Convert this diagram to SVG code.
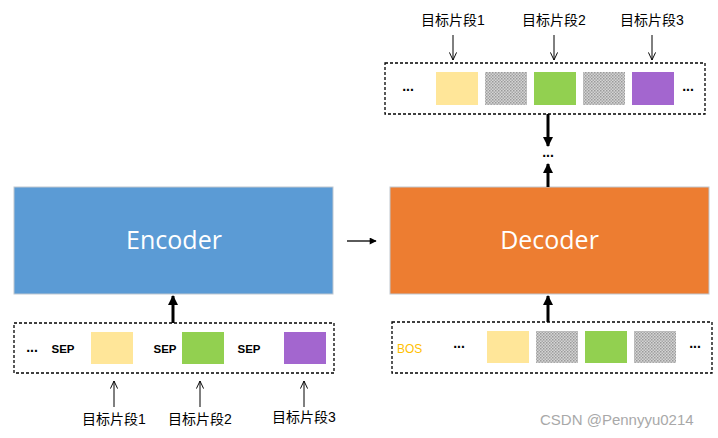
<svg xmlns="http://www.w3.org/2000/svg" width="718" height="438" viewBox="0 0 718 438">
<defs>
<style>
.box{stroke:#bfc7d0;stroke-width:1}
.big{font-family:"Open Sans","Liberation Sans",sans-serif;font-size:25px;fill:#fff;text-anchor:middle}
.dash{fill:#fff;stroke:#000;stroke-width:1.3;stroke-dasharray:3 2}
.sep{font-family:"Liberation Sans",Arial,sans-serif;font-size:11.5px;font-weight:bold;fill:#000;text-anchor:middle}
.dots{font-family:"Liberation Sans",Arial,sans-serif;font-size:14px;font-weight:bold;fill:#000;text-anchor:middle}
.lab{font-family:"Liberation Sans","Noto Sans CJK SC",sans-serif;font-size:14px;fill:#000;text-anchor:middle}
.thin{stroke:#000;stroke-width:1;fill:none}
.thick{stroke:#000;stroke-width:3;fill:none}
.y{fill:#FFE699}.g{fill:#92D050}.p{fill:#A366CF}.x{fill:url(#dotpat)}
</style>
<pattern id="dotpat" width="3" height="3" patternUnits="userSpaceOnUse">
<rect width="3" height="3" fill="#d4d4d4"/>
<rect x="0" y="0" width="1.5" height="1.5" fill="#9a9a9a"/>
<rect x="1.5" y="1.5" width="1.5" height="1.5" fill="#a8a8a8"/>
</pattern>
<marker id="hb" viewBox="0 0 10 10" refX="9" refY="5" markerWidth="3.4" markerHeight="3.4" orient="auto" markerUnits="strokeWidth">
<path d="M0,0 L10,5 L0,10 z" fill="#000"/>
</marker>
<marker id="ho" viewBox="0 0 10 10" refX="9.5" refY="5" markerWidth="8" markerHeight="8" orient="auto" markerUnits="userSpaceOnUse">
<path d="M0,0.5 L9.5,5 L0,9.5" fill="none" stroke="#000" stroke-width="1.2"/>
</marker>
<marker id="hm" viewBox="0 0 10 10" refX="9" refY="5" markerWidth="8" markerHeight="7" orient="auto" markerUnits="userSpaceOnUse">
<path d="M0,0 L10,5 L0,10 z" fill="#000"/>
</marker>
</defs>
<rect width="718" height="438" fill="#fff"/>

<g id="encoder">
<rect class="box" x="14" y="187" width="319" height="107" fill="#5B9BD5"/>
<text class="big" x="174" y="249">Encoder</text>
</g>
<g id="decoder">
<rect class="box" x="390" y="187" width="319" height="107" fill="#ED7D31"/>
<text class="big" x="549.5" y="249">Decoder</text>
</g>

<g id="encoder-input">
<rect class="dash" x="14" y="323" width="320" height="50"/>
<text class="dots" x="32" y="352">...</text>
<text class="sep" x="63" y="353">SEP</text>
<rect class="y" x="91" y="332" width="42" height="32"/>
<text class="sep" x="165" y="353">SEP</text>
<rect class="g" x="182" y="332" width="42" height="32"/>
<text class="sep" x="249" y="353">SEP</text>
<rect class="p" x="284" y="332" width="42" height="32"/>
</g>

<g id="decoder-input">
<rect class="dash" x="392" y="322" width="320" height="51"/>
<text x="397" y="352.5" font-family="Liberation Sans,Arial,sans-serif" font-size="12" fill="#FFC000">BOS</text>
<text class="dots" x="459" y="348">...</text>
<rect class="y" x="487" y="331" width="42" height="32"/>
<rect class="x" x="536" y="331" width="42" height="32"/>
<rect class="g" x="585" y="331" width="42" height="32"/>
<rect class="x" x="634" y="331" width="42" height="32"/>
<text class="dots" x="695" y="348">...</text>
</g>

<g id="decoder-output">
<rect class="dash" x="385" y="63" width="320" height="51"/>
<text class="dots" x="408" y="91">...</text>
<rect class="y" x="436" y="72" width="42" height="33"/>
<rect class="x" x="485" y="72" width="42" height="33"/>
<rect class="g" x="534" y="72" width="42" height="33"/>
<rect class="x" x="583" y="72" width="42" height="33"/>
<rect class="p" x="632" y="72" width="42" height="33"/>
<text class="dots" x="688" y="91">...</text>
</g>

<g id="labels">
<text class="lab" x="453" y="25">目标片段1</text>
<text class="lab" x="554" y="25">目标片段2</text>
<text class="lab" x="652" y="25">目标片段3</text>
<text class="lab" x="114" y="424">目标片段1</text>
<text class="lab" x="200" y="424">目标片段2</text>
<text class="lab" x="304" y="422">目标片段3</text>
<text class="dots" x="548" y="157">...</text>
<text x="540" y="425" font-family="Liberation Sans,Arial,sans-serif" font-size="15" fill="#9a9a9a" opacity="0.85">CSDN @Pennyyu0214</text>
</g>

<g id="connectors">
<line class="thick" x1="173" y1="323" x2="173" y2="296" marker-end="url(#hb)"/>
<line class="thick" x1="548" y1="322" x2="548" y2="296" marker-end="url(#hb)"/>
<line class="thick" x1="548" y1="187" x2="548" y2="164" marker-end="url(#hb)"/>
<line class="thick" x1="548" y1="114" x2="548" y2="146" marker-end="url(#hb)"/>
<line x1="347" y1="241" x2="376" y2="241" stroke="#000" stroke-width="1.3" marker-end="url(#hm)"/>
<line class="thin" x1="114" y1="407" x2="114" y2="381" marker-end="url(#ho)"/>
<line class="thin" x1="200" y1="407" x2="200" y2="381" marker-end="url(#ho)"/>
<line class="thin" x1="304" y1="407" x2="304" y2="381" marker-end="url(#ho)"/>
<line class="thin" x1="453" y1="35" x2="453" y2="60" marker-end="url(#ho)"/>
<line class="thin" x1="554" y1="35" x2="554" y2="60" marker-end="url(#ho)"/>
<line class="thin" x1="652" y1="35" x2="652" y2="60" marker-end="url(#ho)"/>
</g>
</svg>
